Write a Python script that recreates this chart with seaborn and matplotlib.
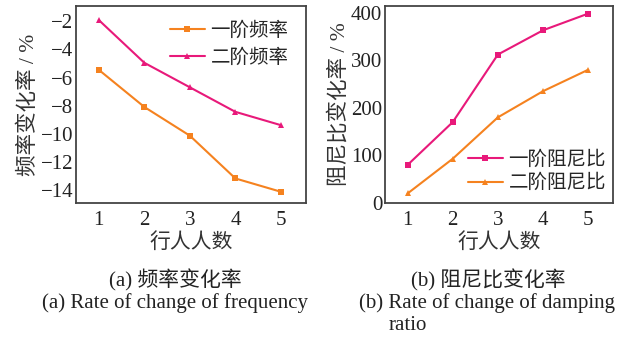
import matplotlib
matplotlib.use("Agg")
import matplotlib.pyplot as plt
import seaborn as sns
import pandas as pd

sns.set_theme(style="white")
FAM = ['Liberation Serif', 'Noto Sans CJK SC']
plt.rcParams['font.family'] = FAM
plt.rcParams['axes.unicode_minus'] = True

people = [1, 2, 3, 4, 5]
freq1 = [-5.45, -8.1, -10.15, -13.2, -14.15]
freq2 = [-1.9, -4.95, -6.7, -8.45, -9.4]
damp1 = [80, 170, 312, 363, 398]
damp2 = [20, 93, 180, 235, 280]

ORANGE = '#F5821F'
PINK = '#E8197A'

fig = plt.figure(figsize=(6.27, 3.38), dpi=100)
W, H = 627, 338
ax1 = fig.add_axes([76 / W, (H - 203) / H, 230 / W, 197 / H])
ax2 = fig.add_axes([385 / W, (H - 203) / H, 228 / W, 197 / H])

df1 = pd.DataFrame({'x': people * 2, 'y': freq1 + freq2,
                    's': ['一阶频率'] * 5 + ['二阶频率'] * 5})
df2 = pd.DataFrame({'x': people * 2, 'y': damp1 + damp2,
                    's': ['一阶阻尼比'] * 5 + ['二阶阻尼比'] * 5})

sns.lineplot(data=df1, x='x', y='y', hue='s', style='s',
             palette=[ORANGE, PINK], markers=['s', '^'], dashes=False,
             markersize=5, markeredgewidth=0, linewidth=1.5, ax=ax1)
sns.lineplot(data=df2, x='x', y='y', hue='s', style='s',
             palette=[PINK, ORANGE], markers=['s', '^'], dashes=False,
             markersize=5, markeredgewidth=0, linewidth=1.5, ax=ax2)

ax1.set_xlim(0.5, 5.55)
ax1.set_ylim(-14.95, -0.9)
ax1.set_yticks([-2, -4, -6, -8, -10, -12, -14])
ax2.set_xlim(0.5, 5.55)
ax2.set_ylim(0, 414)
ax2.set_yticks([0, 100, 200, 300, 400])

for ax in (ax1, ax2):
    ax.set_xticks(people)
    ax.tick_params(direction='in', length=5, width=1, colors='#333333',
                   labelsize=15, labelcolor='#222222')
    ax.tick_params(axis='x', pad=6)
    ax.tick_params(axis='y', pad=2)
    for sp in ax.spines.values():
        sp.set_color('#444444')
        sp.set_linewidth(1.3)
    ax.set_xlabel('行人人数', fontsize=15, color='#333333', labelpad=2)

ax1.set_ylabel('频率变化率 / %', fontsize=15.5, color='#333333', labelpad=1)
ax2.set_ylabel('阻尼比变化率 / %', fontsize=15.5, color='#333333', labelpad=1)

ax1.legend(loc='upper right', bbox_to_anchor=(0.975, 0.98), frameon=False,
           fontsize=14, handlelength=1.8, handletextpad=0.3, borderaxespad=0.2,
           labelspacing=0.45, title=None)
ax2.legend(loc='lower right', bbox_to_anchor=(1.02, -0.005), frameon=False,
           fontsize=14, handlelength=1.8, handletextpad=0.3, borderaxespad=0.2,
           labelspacing=0.25, title=None)

fig.text(175 / W, 1 - 280 / H, '(a) 频率变化率', ha='center', va='center',
         fontsize=15, color='#222222')
fig.text(175 / W, 1 - 303 / H, '(a) Rate of change of frequency', ha='center',
         va='center', fontsize=15, color='#222222')
fig.text(488 / W, 1 - 280 / H, '(b) 阻尼比变化率', ha='center', va='center',
         fontsize=15, color='#222222')
fig.text(359 / W, 1 - 303 / H, '(b) Rate of change of damping', ha='left',
         va='center', fontsize=15, color='#222222')
fig.text(389 / W, 1 - 325 / H, 'ratio', ha='left', va='center',
         fontsize=15, color='#222222')

fig.savefig('out.png', dpi=100)
